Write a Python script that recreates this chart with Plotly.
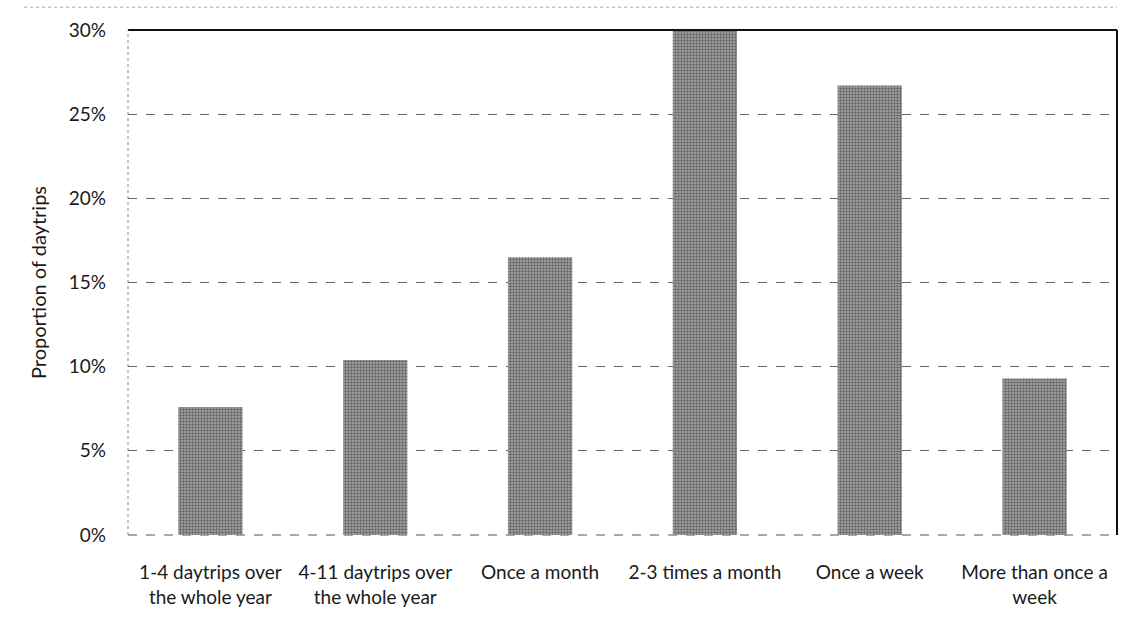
import plotly.graph_objects as go

# Survey: how often respondents take daytrips
categories = [
    "1-4 daytrips over<br>the whole year",
    "4-11 daytrips over<br>the whole year",
    "Once a month",
    "2-3 times a month",
    "Once a week",
    "More than once a<br>week",
]
share_pct = [7.6, 10.4, 16.5, 30.0, 26.7, 9.3]

y_ticks = [0, 5, 10, 15, 20, 25, 30]
y_tick_text = [f"{v}%" for v in y_ticks]

FONT = "Lato, 'Open Sans', sans-serif"
TXT = "#1a1a1a"

fig = go.Figure()
fig.add_trace(go.Bar(
    x=categories,
    y=share_pct,
    marker=dict(
        color="#8c8c8c",
        line=dict(width=0),
        pattern=dict(shape=".", fgcolor="#1e1e1e", bgcolor="#a9a9a9",
                     size=3, solidity=0.5),
    ),
    hoverinfo="x+y",
))

fig.update_layout(
    width=1124, height=623,
    margin=dict(l=128, r=7, t=30, b=88),
    paper_bgcolor="white",
    plot_bgcolor="white",
    bargap=0.61,
    showlegend=False,
    font=dict(family=FONT, size=19, color=TXT),
    xaxis=dict(
        showgrid=False, showline=False, ticks="", zeroline=False,
        ticklabelstandoff=24,
        tickfont=dict(family=FONT, size=19, color=TXT),
    ),
    yaxis=dict(
        range=[0, 30],
        tickvals=y_ticks, ticktext=y_tick_text,
        showgrid=True, gridcolor="#666", gridwidth=1, griddash="dash",
        zeroline=False, showline=False, ticks="",
        ticklabelstandoff=21,
        tickfont=dict(family=FONT, size=19, color=TXT),
        title=dict(text="Proportion of daytrips", standoff=16,
                   font=dict(family=FONT, size=20, color=TXT)),
    ),
)

# Frame: solid top and right edges, dotted left edge, dashed baseline
fig.add_shape(type="line", xref="x domain", yref="y domain",
              x0=0, x1=1, y0=1, y1=1, line=dict(color="#111", width=2))
fig.add_shape(type="line", xref="x domain", yref="y domain",
              x0=1, x1=1, y0=0, y1=1, line=dict(color="#111", width=2))
fig.add_shape(type="line", xref="x domain", yref="y domain",
              x0=0, x1=0, y0=0, y1=1, line=dict(color="#888", width=1, dash="dot"))
fig.add_shape(type="line", xref="x domain", yref="y domain",
              x0=0, x1=1, y0=0, y1=0, line=dict(color="#555", width=1, dash="dash"),
              layer="below")
# faint dotted page rule across the top
fig.add_shape(type="line", xref="paper", yref="paper",
              x0=-0.105, x1=1.0, y0=1.045, y1=1.045,
              line=dict(color="#aaa", width=1, dash="dot"))

fig.write_html("out.html")
